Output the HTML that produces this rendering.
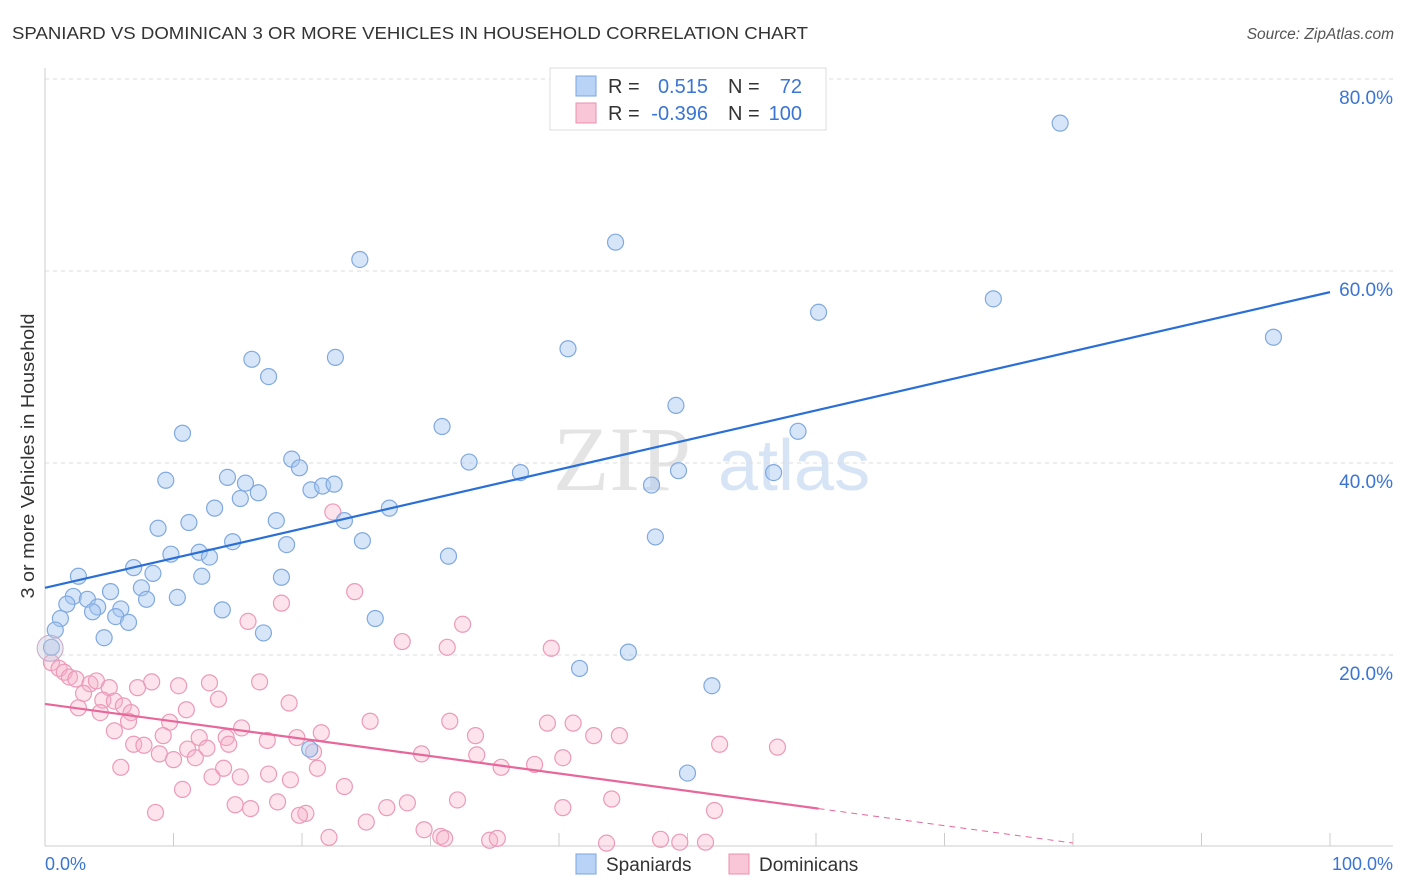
<!DOCTYPE html>
<html><head><meta charset="utf-8"><style>
body{margin:0;background:#fff;font-family:"Liberation Sans",sans-serif;}
svg{display:block}
</style></head><body>
<svg id="c" width="1406" height="892">
<text x="12" y="39" font-size="17.5" fill="#333" textLength="796" lengthAdjust="spacingAndGlyphs">SPANIARD VS DOMINICAN 3 OR MORE VEHICLES IN HOUSEHOLD CORRELATION CHART</text>
<text x="1394" y="39" font-size="15.5" fill="#555" font-style="italic" text-anchor="end">Source: ZipAtlas.com</text>
<text transform="translate(34,456) rotate(-90)" font-size="18" fill="#333" text-anchor="middle" textLength="285" lengthAdjust="spacingAndGlyphs">3 or more Vehicles in Household</text>
<g><text x="553" y="490" font-size="92" font-family="Liberation Serif,serif" fill="#e4e4e4">ZIP</text><text x="718" y="490" font-size="72" fill="#d6e4f6">atlas</text></g>
<g id="grid"></g><g id="marks"></g>
<g>
<rect x="550" y="68" width="276" height="62" fill="#fff" stroke="#ddd"/>
<rect x="576" y="76" width="20" height="20" fill="#b8d3f5" stroke="#7aa6e0"/>
<rect x="576" y="103" width="20" height="20" fill="#f8c6d6" stroke="#eb8fb0"/>
<text x="608" y="93" font-size="20" fill="#333">R =</text><text x="708" y="93" font-size="20" fill="#3a74d4" text-anchor="end">0.515</text>
<text x="728" y="93" font-size="20" fill="#333">N =</text><text x="802" y="93" font-size="20" fill="#3a74d4" text-anchor="end">72</text>
<text x="608" y="120" font-size="20" fill="#333">R =</text><text x="708" y="120" font-size="20" fill="#3a74d4" text-anchor="end">-0.396</text>
<text x="728" y="120" font-size="20" fill="#333">N =</text><text x="802" y="120" font-size="20" fill="#3a74d4" text-anchor="end">100</text>
</g>
<g>
<rect x="576" y="854" width="20" height="20" fill="#b8d3f5" stroke="#7aa6e0"/><text x="606" y="871" font-size="19" fill="#333">Spaniards</text>
<rect x="729" y="854" width="20" height="20" fill="#f8c6d6" stroke="#eb8fb0"/><text x="759" y="871" font-size="19" fill="#333">Dominicans</text>
</g>
</svg>
<script>
const yTicks=[20,40,60,80];
const xTickLabels=["0.0%","100.0%"];
const blueX=[79.0,44.4,24.5,73.8,60.2,95.6,40.7,22.6,16.1,17.4,49.1,58.6,10.7,30.9,19.2,19.8,33.0,37.0,49.3,56.7,9.4,14.2,15.6,16.6,47.2,20.7,21.6,22.5,15.2,13.2,26.8,23.3,11.2,18.0,8.8,14.6,18.8,24.7,47.5,9.8,12.0,12.8,31.4,6.9,2.6,8.4,12.2,18.4,5.1,7.5,2.2,3.3,7.9,10.3,1.7,4.1,3.7,5.9,13.8,5.5,6.5,25.7,1.2,0.8,17.0,4.6,0.5,45.4,41.6,51.9,20.6,50.0];
const blueY=[75.4,63.0,61.2,57.1,55.7,53.1,51.9,51.0,50.8,49.0,46.0,43.3,43.1,43.8,40.4,39.5,40.1,39.0,39.2,39.0,38.2,38.5,37.9,36.9,37.7,37.2,37.6,37.8,36.3,35.3,35.3,34.0,33.8,34.0,33.2,31.8,31.5,31.9,32.3,30.5,30.7,30.2,30.3,29.1,28.2,28.5,28.2,28.1,26.6,27.0,26.1,25.8,25.8,26.0,25.3,25.0,24.5,24.8,24.7,24.0,23.4,23.8,23.8,22.6,22.3,21.8,20.8,20.3,18.6,16.8,10.2,7.7];
const pinkX=[22.4,24.1,18.4,15.8,32.5,27.8,31.3,39.4,0.5,1.1,1.5,1.9,2.4,3.5,3.0,4.0,5.0,8.3,10.4,12.8,16.7,7.2,19.0,13.5,4.5,5.4,6.1,6.7,2.6,4.3,11.0,9.7,25.3,31.5,39.1,41.1,15.3,21.5,6.5,5.4,9.2,12.0,14.1,17.3,19.6,33.5,42.7,44.7,6.9,7.7,11.1,12.6,14.3,20.9,8.9,10.0,11.7,29.3,33.6,40.3,52.5,57.0,5.9,13.9,21.2,35.5,38.1,13.0,15.2,17.4,19.1,23.3,10.7,8.6,14.8,16.0,18.1,20.3,26.6,28.2,32.1,40.3,44.1,52.1,19.8,25.0,29.5,30.8,31.1,34.6,35.2,22.1,43.7,47.9,49.4,51.4];
const pinkY=[34.9,26.6,25.4,23.5,23.2,21.4,20.8,20.7,19.2,18.6,18.2,17.7,17.5,17.0,16.0,17.3,16.6,17.2,16.8,17.1,17.2,16.6,15.0,15.4,15.3,15.2,14.7,14.0,14.5,14.0,14.3,13.0,13.1,13.1,12.9,12.9,12.4,11.9,13.1,12.1,11.6,11.4,11.4,11.1,11.4,11.6,11.6,11.6,10.7,10.6,10.2,10.3,10.7,9.9,9.7,9.1,9.3,9.7,9.6,9.3,10.7,10.4,8.3,8.2,8.2,8.3,8.6,7.3,7.3,7.6,7.0,6.3,6.0,3.6,4.4,4.0,4.7,3.5,4.1,4.6,4.9,4.1,5.0,3.8,3.3,2.6,1.8,1.1,0.9,0.7,0.9,1.0,0.4,0.8,0.5,0.5];
const blueTrend=[27.0,57.8];
const pinkTrend=[14.9,4.0];
const pinkSolidEnd=60.2;
const X=v=>45+v*12.85, Y=v=>847-v*9.6;
const NS="http://www.w3.org/2000/svg";
function mk(t,a,p){const e=document.createElementNS(NS,t);for(const k in a)e.setAttribute(k,a[k]);p.appendChild(e);return e;}
const g=document.getElementById('grid'), m=document.getElementById('marks');
yTicks.forEach(t=>{
 const l=mk('line',{x1:45,x2:1393,y1:Y(t),y2:Y(t),stroke:'#ddd','stroke-dasharray':'4,4'},g);
 
 
 const tx=mk('text',{x:1393,y:Y(t)+25,'font-size':19,fill:'#3a74d4','text-anchor':'end'},g);tx.textContent=t.toFixed(1)+'%';
 
 
});
mk('line',{x1:45,x2:45,y1:68,y2:846,stroke:'#ccc'},g);
mk('line',{x1:45,x2:1393,y1:846,y2:846,stroke:'#ccc'},g);
for(let i=0;i<=10;i++){mk('line',{x1:X(i*10),x2:X(i*10),y1:833,y2:846,stroke:'#ccc'},g);}
const xl=mk('text',{x:45,y:870,'font-size':18,fill:'#3a74d4'},g);xl.textContent=xTickLabels[0];


const xr=mk('text',{x:1393,y:870,'font-size':18,fill:'#3a74d4','text-anchor':'end'},g);xr.textContent=xTickLabels[1];


pinkX.forEach((x,i)=>{const c=mk('circle',{cx:X(x),cy:Y(pinkY[i]),r:8,fill:'rgba(246,176,200,0.35)',stroke:'#ec9ab8','stroke-width':1.2},m);
 
 });
blueX.forEach((x,i)=>{const c=mk('circle',{cx:X(x),cy:Y(blueY[i]),r:8,fill:'rgba(164,198,240,0.45)',stroke:'#80a9e0','stroke-width':1.2},m);
 
 });
const big=mk('circle',{cx:X(0.4),cy:Y(20.7),r:13,fill:'rgba(200,200,220,0.4)',stroke:'#c8a8c8'},m);


const bl=mk('line',{x1:X(0),y1:Y(blueTrend[0]),x2:X(100),y2:Y(blueTrend[1]),stroke:'#2a6fd6','stroke-width':2.2},m);


const slope=(pinkTrend[1]-pinkTrend[0])/pinkSolidEnd;
const pl=mk('line',{x1:X(0),y1:Y(pinkTrend[0]),x2:X(pinkSolidEnd),y2:Y(pinkTrend[1]),stroke:'#e8679a','stroke-width':2.2},m);


const pe=80, pd=mk('line',{x1:X(pinkSolidEnd),y1:Y(pinkTrend[1]),x2:X(pe),y2:Y(pinkTrend[0]+slope*pe),stroke:'#e8679a','stroke-width':1,'stroke-dasharray':'6,5'},m);


</script>
</body></html>
